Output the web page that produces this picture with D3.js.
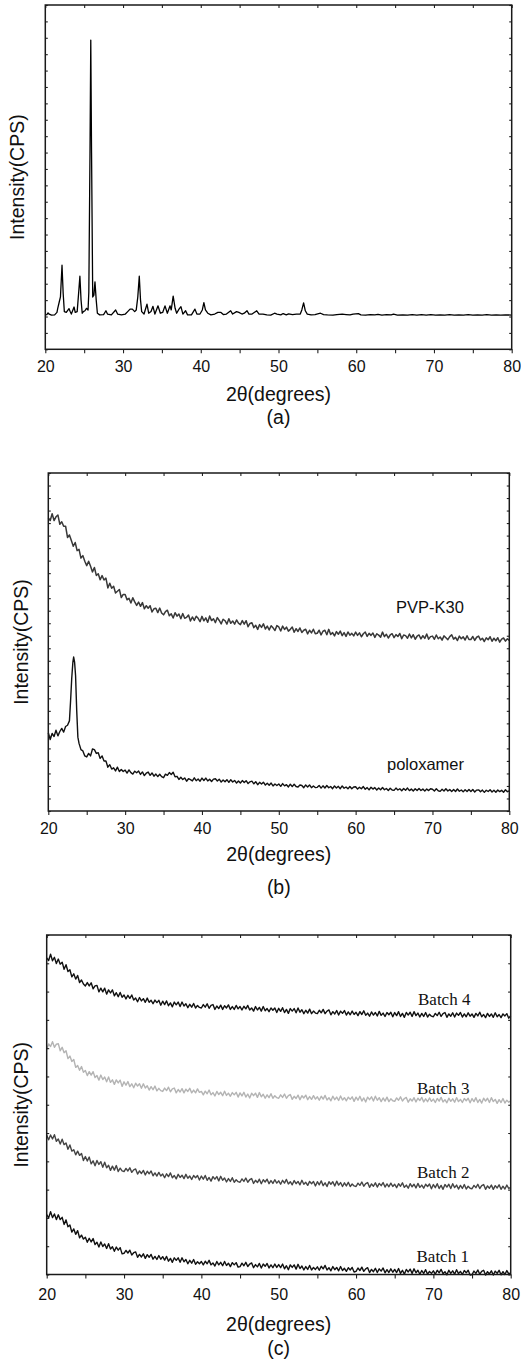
<!DOCTYPE html>
<html><head><meta charset="utf-8">
<script src="https://cdn.jsdelivr.net/npm/d3@7"></script>
<style>body{margin:0;background:#fff} svg{display:block}</style>
</head><body><svg id="chart" width="521" height="1370"></svg>
<script>
// ---------- tick labels / categories ----------
const twoThetaMajorTicks = [20, 30, 40, 50, 60, 70, 80];
const twoThetaMinorTicks = [25, 35, 45, 55, 65, 75];
const xTitle = "2\u03B8(degrees)";
const yTitle = "Intensity(CPS)";

// ---------- panel (a): crystalline pattern, explicit points ----------
const patternATheta = [20.0,20.2,20.35,20.5,20.8,21.2,21.5,21.6,21.8,21.95,22.15,22.3,22.45,22.7,23.05,23.2,23.35,23.7,23.85,24.1,24.3,24.45,24.6,24.75,24.9,25.1,25.3,25.5,25.6,25.75,25.85,25.95,26.1,26.25,26.39,26.55,26.7,27.0,27.5,27.8,28.0,28.5,29.05,29.3,29.8,30.3,30.6,30.9,31.2,31.5,31.7,31.9,32.09,32.25,32.4,32.7,33.08,33.3,33.6,33.85,34.1,34.5,34.8,35.1,35.4,35.7,35.85,36.05,36.2,36.45,36.7,36.9,37.2,37.45,37.7,38.05,38.3,38.8,39.25,39.5,39.9,40.2,40.4,40.6,40.9,41.3,41.8,42.2,42.6,42.9,43.3,43.85,44.1,44.6,44.9,45.3,45.6,45.95,46.2,46.6,47.2,47.5,48.0,48.5,49.0,49.5,49.8,50.3,50.6,51.0,51.3,51.8,52.3,52.8,53.0,53.23,53.45,53.7,54.2,54.7,55.4,55.8,56.3,57.0,57.5,58.2,58.7,59.2,59.6,60.27,60.6,61.2,61.8,62.4,62.8,63.3,63.9,64.5,64.8,65.3,66.0,66.6,67.2,67.8,68.4,69.0,69.6,70.2,70.8,71.4,72.0,72.6,73.2,73.8,74.4,75.0,75.6,76.2,76.8,77.4,78.0,78.6,79.2,80.0];
const patternAIntensity = [2.10,2.12,2.22,2.14,2.08,2.10,2.25,2.5,2.9,3.2,5.13,3.4,2.3,2.25,2.48,2.3,2.15,2.58,2.25,2.3,3.5,4.46,3.0,2.2,2.3,2.35,2.5,2.4,3.5,12.0,18.86,12.0,3.19,3.3,4.11,3.0,2.2,2.1,2.12,2.35,2.15,2.1,2.4,2.15,2.1,2.15,2.3,2.45,2.45,2.3,2.4,3.2,4.46,3.0,2.3,2.15,2.75,2.2,2.3,2.62,2.15,2.65,2.2,2.25,2.65,2.2,2.4,2.65,2.4,3.24,2.5,2.2,2.45,2.6,2.15,2.35,2.1,2.1,2.45,2.15,2.15,2.4,2.85,2.4,2.2,2.1,2.15,2.25,2.25,2.12,2.15,2.35,2.15,2.3,2.25,2.15,2.2,2.35,2.15,2.15,2.35,2.15,2.15,2.1,2.08,2.2,2.15,2.1,2.18,2.1,2.16,2.12,2.15,2.15,2.4,2.83,2.35,2.15,2.1,2.12,2.2,2.12,2.1,2.08,2.12,2.14,2.12,2.1,2.14,2.18,2.1,2.08,2.12,2.1,2.13,2.08,2.12,2.1,2.14,2.08,2.1,2.09,2.12,2.08,2.11,2.08,2.12,2.08,2.1,2.08,2.11,2.08,2.1,2.08,2.11,2.08,2.1,2.08,2.11,2.08,2.1,2.08,2.1,2.09];

// ---------- panels (b) and (c): amorphous patterns on a 0.25 degree step ----------
const gridTheta = d3.range(20, 80.001, 0.25);

const pvpK30 = [
 23.4,23.2,23.75,23.2,23.5,23.65,22.9,23.1,22.75,22.75,21.85,22.05,21.6,21.15,21.45,20.8,20.9,20.2,20.4,19.95,
 19.6,19.95,19.55,19.1,19.45,18.82,18.95,18.47,18.8,18.45,18.6,17.82,18.2,17.8,17.95,17.42,17.55,17.7,17.05,17.3,
 17.3,16.87,16.99,16.61,17.03,16.7,16.42,16.69,16.35,16.65,16.15,16.4,16.2,16.4,15.9,16.15,16.2,15.85,16.21,15.82,
 15.67,15.93,16.04,15.59,15.75,15.42,15.84,15.56,15.73,15.35,15.77,15.4,15.47,15.65,15.18,15.5,15.23,15.56,15.39,15.12,
 15.55,15.19,15.43,15.07,15.57,15.21,15.36,15.05,15.45,15.22,14.95,15.32,15.2,14.93,15.36,14.99,15.18,14.92,15.26,15.0,
 14.89,15.21,14.93,15.2,14.72,14.98,15.04,14.65,14.83,14.51,14.89,14.67,14.95,14.54,14.77,14.46,14.8,14.63,14.42,14.81,
 14.7,14.38,14.77,14.5,14.69,14.37,14.51,14.69,14.28,14.56,14.34,14.62,14.26,14.44,14.52,14.15,14.44,14.23,14.52,14.16,
 14.2,14.44,14.07,14.36,14.44,14.08,14.51,14.1,14.25,13.99,14.33,14.12,14.37,14.01,14.25,13.95,14.3,14.04,14.19,13.99,
 14.29,14.03,14.23,13.92,14.16,14.3,13.95,14.19,14.03,14.22,13.87,14.16,14.05,13.89,14.29,13.93,14.12,13.82,14.06,14.16,
 13.85,14.09,13.94,14.18,13.77,14.06,14.01,13.8,14.14,13.83,14.08,13.72,13.96,14.06,13.75,14.0,13.79,14.14,13.73,13.93,
 13.97,13.72,14.06,13.76,13.9,13.65,13.99,13.84,13.69,13.93,14.08,13.73,13.87,13.62,13.97,13.76,13.91,13.66,14.0,13.7,
 13.7,13.94,13.63,13.88,13.97,13.66,13.8,13.54,13.83,13.68,13.92,13.56,13.8,13.6,13.84,13.49,13.73,13.82,13.57,13.76,
 13.62];

const poloxamer = [
 6.25,5.7,6.2,5.95,6.45,6.0,6.35,6.6,6.3,6.75,6.85,null,null,null,null,null,5.4,4.9,4.8,4.4,
 4.32,4.6,4.4,4.95,4.9,4.6,4.65,4.2,4.4,4.0,4.0,3.5,3.7,3.35,3.45,3.2,3.5,3.15,3.32,3.15,
 3.27,3.03,3.28,3.06,2.95,3.18,3.06,3.19,2.92,3.12,2.83,3.02,3.11,2.85,3.04,2.78,2.95,2.75,2.94,2.75,
 2.66,2.94,2.85,3.07,2.92,3.1,2.73,2.77,2.52,2.7,2.51,2.64,2.38,2.58,2.5,2.4,2.65,2.42,2.55,2.38,
 2.63,2.44,2.63,2.4,2.54,2.36,2.55,2.58,2.4,2.54,2.31,2.47,2.33,2.5,2.29,2.5,2.32,2.44,2.23,2.4,
 2.24,2.43,2.27,2.42,2.19,2.33,2.38,2.17,2.34,2.1,2.29,2.15,2.3,2.07,2.21,2.06,2.23,2.0,2.16,2.04,
 2.16,1.97,2.19,2.01,2.1,1.92,2.14,1.95,2.14,1.96,1.91,2.08,2.04,1.86,2.08,1.92,2.08,1.86,2.0,1.87,
 1.89,2.04,1.83,2.01,1.84,2.04,1.86,1.96,1.78,2.0,1.84,1.97,1.78,2.0,1.82,1.92,1.77,1.96,1.78,1.92,
 1.94,1.75,1.89,1.78,1.95,1.74,1.87,1.69,1.9,1.75,1.87,1.68,1.84,1.69,1.88,1.7,1.8,1.64,1.82,1.68,
 1.65,1.83,1.68,1.78,1.62,1.8,1.66,1.83,1.63,1.75,1.6,1.78,1.64,1.79,1.64,1.75,1.59,1.76,1.63,1.78,
 1.74,1.6,1.77,1.62,1.57,1.74,1.6,1.78,1.6,1.71,1.55,1.72,1.56,1.76,1.58,1.68,1.53,1.7,1.56,1.72,
 1.56,1.72,1.52,1.67,1.69,1.53,1.67,1.49,1.66,1.56,1.7,1.52,1.66,1.5,1.68,1.55,1.65,1.5,1.7,1.54,
 1.6];
const poloxamerPeakTheta = [22.75,22.9,23.05,23.2,23.3,23.42,23.55,23.7,23.85];
const poloxamerPeakIntensity = [7.2,8.8,10.6,11.9,12.3,11.9,10.8,8.0,5.9];

const batch4 = [
 11.19,11.1,11.32,11.09,11.21,10.99,11.15,10.97,11.04,10.79,10.95,10.71,10.77,10.52,10.63,10.44,10.57,10.32,10.41,10.27,
 10.2,10.32,10.2,10.31,10.1,10.2,10.22,9.99,10.12,9.99,10.12,9.91,10.06,9.95,10.06,9.85,9.96,9.82,9.97,9.8,
 9.88,9.74,9.87,9.76,9.88,9.7,9.77,9.64,9.79,9.67,9.75,9.62,9.77,9.62,9.69,9.57,9.7,9.61,9.69,9.52,
 9.66,9.54,9.67,9.5,9.6,9.46,9.63,9.53,9.63,9.47,9.63,9.49,9.57,9.43,9.55,9.45,9.58,9.42,9.51,9.44,
 9.42,9.54,9.45,9.57,9.41,9.51,9.54,9.37,9.49,9.4,9.52,9.37,9.5,9.42,9.53,9.37,9.47,9.37,9.51,9.39,
 9.47,9.35,9.48,9.39,9.51,9.35,9.42,9.31,9.47,9.35,9.44,9.31,9.47,9.32,9.4,9.29,9.42,9.34,9.42,9.26,
 9.41,9.3,9.43,9.26,9.37,9.23,9.4,9.31,9.4,9.25,9.42,9.27,9.36,9.22,9.34,9.24,9.38,9.22,9.31,9.24,
 9.22,9.34,9.25,9.37,9.22,9.31,9.35,9.18,9.29,9.21,9.33,9.17,9.31,9.23,9.33,9.17,9.28,9.18,9.31,9.19,
 9.27,9.15,9.29,9.19,9.32,9.16,9.24,9.13,9.28,9.17,9.26,9.14,9.3,9.16,9.24,9.12,9.26,9.18,9.27,9.11,
 9.26,9.15,9.29,9.12,9.23,9.09,9.26,9.17,9.27,9.12,9.29,9.15,9.24,9.1,9.23,9.12,9.26,9.1,9.2,9.13,
 9.11,9.23,9.15,9.27,9.12,9.22,9.26,9.09,9.21,9.13,9.25,9.1,9.24,9.16,9.26,9.1,9.21,9.11,9.25,9.13,
 9.21,9.09,9.23,9.14,9.27,9.11,9.19,9.08,9.23,9.12,9.21,9.09,9.25,9.11,9.19,9.08,9.21,9.14,9.22,9.06,
 9.15];
const batch3 = [
 7.96,8.15,8.06,8.23,8.03,8.14,8.16,7.91,8.03,7.84,7.91,7.63,7.72,7.53,7.6,7.32,7.39,7.22,7.35,7.15,
 7.21,7.03,7.17,7.05,7.17,6.96,7.03,6.87,7.05,6.89,6.98,6.81,6.98,6.79,6.88,6.72,6.88,6.77,6.87,6.65,
 6.81,6.69,6.82,6.64,6.74,6.6,6.76,6.66,6.74,6.58,6.74,6.59,6.67,6.52,6.64,6.53,6.66,6.49,6.58,6.5,
 6.47,6.59,6.5,6.62,6.46,6.56,6.59,6.42,6.54,6.45,6.57,6.42,6.55,6.47,6.58,6.42,6.52,6.42,6.56,6.44,
 6.47,6.35,6.48,6.39,6.52,6.35,6.43,6.31,6.47,6.36,6.44,6.32,6.48,6.33,6.41,6.3,6.43,6.35,6.44,6.27,
 6.42,6.31,6.44,6.27,6.38,6.24,6.41,6.32,6.41,6.26,6.43,6.28,6.37,6.23,6.35,6.25,6.39,6.23,6.32,6.25,
 6.23,6.35,6.26,6.38,6.23,6.32,6.36,6.19,6.3,6.22,6.34,6.18,6.32,6.24,6.34,6.18,6.29,6.19,6.32,6.2,
 6.28,6.16,6.3,6.2,6.33,6.17,6.25,6.14,6.3,6.18,6.27,6.15,6.31,6.17,6.25,6.14,6.27,6.19,6.28,6.12,
 6.27,6.16,6.3,6.13,6.24,6.1,6.27,6.18,6.28,6.13,6.3,6.16,6.25,6.11,6.24,6.13,6.27,6.11,6.21,6.14,
 6.12,6.24,6.16,6.28,6.13,6.22,6.26,6.09,6.21,6.13,6.25,6.1,6.23,6.15,6.26,6.1,6.21,6.11,6.24,6.12,
 6.2,6.08,6.22,6.13,6.26,6.1,6.18,6.07,6.23,6.12,6.21,6.09,6.25,6.11,6.19,6.08,6.22,6.14,6.23,6.07,
 6.22,6.11,6.25,6.08,6.19,6.06,6.23,6.13,6.23,6.08,6.25,6.11,6.19,6.05,6.18,6.08,6.22,6.06,6.16,6.09,
 6.14];
const batch2 = [
 4.92,4.76,4.93,4.79,4.94,4.71,4.79,4.61,4.78,4.59,4.65,4.43,4.58,4.36,4.41,4.23,4.36,4.21,4.28,4.03,
 4.17,4.01,4.15,3.91,4.02,3.84,4.03,3.89,3.99,3.79,3.97,3.77,3.86,3.68,3.83,3.69,3.85,3.64,3.76,3.66,
 3.64,3.75,3.66,3.77,3.61,3.7,3.73,3.55,3.66,3.57,3.68,3.52,3.65,3.56,3.66,3.49,3.59,3.48,3.61,3.48,
 3.55,3.42,3.56,3.46,3.59,3.42,3.5,3.38,3.54,3.43,3.51,3.39,3.54,3.4,3.48,3.36,3.5,3.42,3.5,3.34,
 3.48,3.37,3.5,3.33,3.43,3.3,3.46,3.37,3.46,3.31,3.47,3.33,3.41,3.27,3.39,3.29,3.42,3.26,3.35,3.28,
 3.26,3.38,3.29,3.41,3.26,3.35,3.39,3.22,3.33,3.25,3.37,3.21,3.35,3.27,3.37,3.21,3.32,3.22,3.35,3.23,
 3.31,3.19,3.33,3.23,3.36,3.2,3.28,3.17,3.32,3.21,3.29,3.17,3.33,3.19,3.26,3.15,3.29,3.21,3.29,3.13,
 3.28,3.17,3.31,3.14,3.24,3.11,3.28,3.19,3.28,3.13,3.3,3.16,3.25,3.11,3.24,3.13,3.26,3.11,3.2,3.13,
 3.11,3.23,3.15,3.27,3.12,3.21,3.25,3.08,3.2,3.12,3.24,3.09,3.22,3.14,3.25,3.09,3.2,3.1,3.23,3.11,
 3.19,3.07,3.21,3.12,3.24,3.08,3.16,3.05,3.21,3.1,3.19,3.06,3.22,3.08,3.16,3.05,3.19,3.11,3.2,3.03,
 3.18,3.07,3.21,3.04,3.15,3.01,3.18,3.09,3.19,3.04,3.21,3.07,3.16,3.02,3.15,3.04,3.18,3.02,3.12,3.05,
 3.03,3.15,3.07,3.19,3.04,3.14,3.18,3.01,3.13,3.05,3.16,3.01,3.14,3.06,3.17,3.01,3.12,3.02,3.16,3.04,
 3.08];
const batch1 = [
 2.12,2.0,2.22,2.01,2.14,1.94,2.11,1.94,2.02,1.77,1.93,1.69,1.75,1.5,1.61,1.42,1.55,1.3,1.39,1.25,
 1.32,1.14,1.28,1.15,1.27,1.06,1.14,0.97,1.15,0.99,1.08,0.92,1.09,0.9,0.98,0.82,0.97,0.86,0.95,0.73,
 0.75,0.85,0.76,0.86,0.69,0.77,0.8,0.61,0.71,0.62,0.73,0.57,0.7,0.61,0.71,0.54,0.64,0.53,0.67,0.54,
 0.63,0.51,0.64,0.47,0.57,0.43,0.59,0.5,0.59,0.43,0.59,0.45,0.53,0.38,0.5,0.4,0.53,0.36,0.45,0.38,
 0.46,0.34,0.47,0.38,0.5,0.34,0.41,0.3,0.46,0.34,0.43,0.31,0.46,0.32,0.4,0.28,0.42,0.34,0.42,0.26,
 0.28,0.4,0.31,0.43,0.28,0.37,0.41,0.24,0.35,0.27,0.39,0.23,0.37,0.29,0.39,0.23,0.34,0.24,0.37,0.25,
 0.35,0.24,0.37,0.2,0.31,0.17,0.34,0.25,0.34,0.19,0.36,0.21,0.3,0.16,0.28,0.18,0.32,0.16,0.25,0.18,
 0.27,0.15,0.29,0.2,0.32,0.16,0.24,0.13,0.28,0.17,0.25,0.13,0.28,0.14,0.22,0.11,0.24,0.16,0.25,0.09,
 0.11,0.23,0.14,0.26,0.11,0.2,0.24,0.07,0.18,0.1,0.22,0.07,0.2,0.12,0.23,0.06,0.17,0.07,0.2,0.08,
 0.18,0.07,0.21,0.04,0.15,0.01,0.18,0.09,0.19,0.04,0.2,0.06,0.15,0.01,0.14,0.04,0.17,0.01,0.11,0.04,
 0.13,0.01,0.15,0.06,0.18,0.03,0.1,-0.01,0.15,0.04,0.13,0.01,0.17,0.03,0.11,0.0,0.14,0.06,0.15,-0.02,
 0.0,0.12,0.04,0.16,0.01,0.11,0.15,-0.02,0.1,0.02,0.13,-0.02,0.12,0.04,0.15,-0.01,0.1,0.0,0.14,0.02,
 0.06];

const seriesLabelsB = ["PVP-K30", "poloxamer"];
const seriesLabelsC = ["Batch 4", "Batch 3", "Batch 2", "Batch 1"];

// ---------- helpers ----------
const toPoints = (xs, ys) => xs.map((x, i) => ({x, y: ys[i]})).filter(d => d.y != null);
const sansFont = "'Liberation Sans', Arial, Helvetica, sans-serif";
const serifFont = "'Liberation Serif', 'Times New Roman', serif";

const poloxamerPoints = toPoints(gridTheta, poloxamer)
  .concat(toPoints(poloxamerPeakTheta, poloxamerPeakIntensity))
  .sort((a, b) => a.x - b.x);

const panels = [
  {left: 45.3, right: 511.7, top: 5, bottom: 349.3, yMax: 21, tickPad: 7,
   yTitleX: 24, titleBase: 401, caption: "(a)", captionBase: 424,
   series: [{pts: toPoints(patternATheta, patternAIntensity), color: "#000", w: 1.3}],
   labels: []},
  {left: 48.3, right: 509.3, top: 473, bottom: 811, yMax: 27, tickPad: 8,
   yTitleX: 28, titleBase: 861, caption: "(b)", captionBase: 894,
   series: [{pts: toPoints(gridTheta, pvpK30), color: "#383838", w: 1.5},
            {pts: poloxamerPoints, color: "#111", w: 1.4}],
   labels: [{t: seriesLabelsB[0], x: 396, y: 613, font: sansFont, size: 16.5},
            {t: seriesLabelsB[1], x: 387, y: 769.5, font: sansFont, size: 16.5}]},
  {left: 46.7, right: 510.7, top: 935, bottom: 1274.5, yMax: 12, tickPad: 10,
   yTitleX: 28, titleBase: 1331, caption: "(c)", captionBase: 1355,
   series: [{pts: toPoints(gridTheta, batch4), color: "#111", w: 1.4},
            {pts: toPoints(gridTheta, batch3), color: "#b4b4b4", w: 1.4},
            {pts: toPoints(gridTheta, batch2), color: "#444", w: 1.4},
            {pts: toPoints(gridTheta, batch1), color: "#111", w: 1.4}],
   labels: [{t: seriesLabelsC[0], x: 418, y: 1005, font: serifFont, size: 17},
            {t: seriesLabelsC[1], x: 417, y: 1094, font: serifFont, size: 17},
            {t: seriesLabelsC[2], x: 417, y: 1178, font: serifFont, size: 17},
            {t: seriesLabelsC[3], x: 416.5, y: 1262, font: serifFont, size: 17}]}
];

const svg = d3.select("#chart");

function drawPanel(p) {
  const x = d3.scaleLinear().domain([20, 80]).range([p.left, p.right]);
  const y = d3.scaleLinear().domain([0, p.yMax]).range([p.bottom, p.top]);
  const g = svg.append("g");
  const line = d3.line().x(d => x(d.x)).y(d => y(d.y));

  p.series.forEach(s => {
    g.append("path").datum(s.pts)
      .attr("fill", "none").attr("stroke", s.color)
      .attr("stroke-width", s.w).attr("stroke-linejoin", "round")
      .attr("d", line);
  });

  const yTickVals = d3.range(0, p.yMax + 0.5, 1);
  const allX = twoThetaMajorTicks.concat(twoThetaMinorTicks);

  const style = sel => {
    sel.select(".domain").remove();
    sel.selectAll(".tick line").attr("stroke", "#222").attr("stroke-width", 1.1);
    sel.selectAll("text").attr("font-family", sansFont).attr("font-size", 16).attr("fill", "#111");
  };

  g.append("g").attr("transform", `translate(0,${p.bottom})`)
    .call(d3.axisBottom(x).tickValues(twoThetaMajorTicks).tickSize(4).tickPadding(p.tickPad).tickFormat(d3.format("d")))
    .call(style);
  g.append("g").attr("transform", `translate(0,${p.bottom})`)
    .call(d3.axisBottom(x).tickValues(twoThetaMinorTicks).tickSize(4).tickFormat(""))
    .call(style);
  g.append("g").attr("transform", `translate(0,${p.top})`)
    .call(d3.axisTop(x).tickValues(allX).tickSize(-3).tickFormat(""))
    .call(style);
  g.append("g").attr("transform", `translate(${p.left},0)`)
    .call(d3.axisLeft(y).tickValues(yTickVals).tickSize(-2.5).tickFormat(""))
    .call(style);
  g.append("g").attr("transform", `translate(${p.right},0)`)
    .call(d3.axisRight(y).tickValues(yTickVals).tickSize(-2.5).tickFormat(""))
    .call(style);

  g.append("rect").attr("x", p.left).attr("y", p.top)
    .attr("width", p.right - p.left).attr("height", p.bottom - p.top)
    .attr("fill", "none").attr("stroke", "#1a1a1a").attr("stroke-width", 1.5);

  const cx = (p.left + p.right) / 2;
  g.append("text").attr("x", cx).attr("y", p.titleBase).attr("text-anchor", "middle")
    .attr("font-family", sansFont).attr("font-size", 19.5).attr("fill", "#111").text(xTitle);
  g.append("text").attr("x", cx).attr("y", p.captionBase).attr("text-anchor", "middle")
    .attr("font-family", sansFont).attr("font-size", 19.5).attr("fill", "#111").text(p.caption);
  g.append("text")
    .attr("transform", `translate(${p.yTitleX},${(p.top + p.bottom) / 2}) rotate(-90)`)
    .attr("text-anchor", "middle")
    .attr("font-family", sansFont).attr("font-size", 19.5).attr("fill", "#111").text(yTitle);

  p.labels.forEach(l => {
    g.append("text").attr("x", l.x).attr("y", l.y)
      .attr("font-family", l.font).attr("font-size", l.size).attr("fill", "#111").text(l.t);
  });
}

panels.forEach(drawPanel);
</script>
</body></html>
